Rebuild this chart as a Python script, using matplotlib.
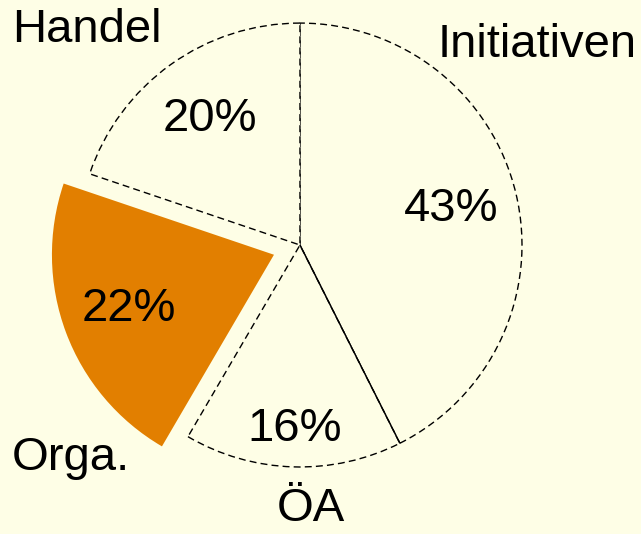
import numpy as np
import matplotlib.pyplot as plt

plt.rcParams['font.family'] = ['Liberation Sans', 'DejaVu Sans']

# data (clockwise from 12 o'clock)
labels = ['Initiativen', 'ÖA', 'Orga.', 'Handel']
values = [43, 16, 22, 20]
explode = [0, 0, 0.125, 0]

bg = '#FEFEE6'
orange = '#E27F00'
total = sum(values)

fig = plt.figure(figsize=(6.41, 5.34), dpi=100, facecolor=bg)
ax = fig.add_axes([0, 0, 1, 1])
ax.set_facecolor(bg)

wedges, texts, autotexts = ax.pie(
    values, explode=explode, startangle=90, counterclock=False,
    colors=[bg, bg, orange, bg],
    autopct=lambda p: '%d%%' % round(p * total / 100), pctdistance=0.7,
    wedgeprops=dict(edgecolor='black', linewidth=1.0, linestyle=(0, (5, 3))),
    textprops=dict(fontsize=34, color='black'))

# exploded slice drawn without outline
wedges[2].set_edgecolor('none')

# solid boundary between Initiativen and ÖA
theta = np.deg2rad(90 - 360 * values[0] / total)
ax.plot([0, np.cos(theta)], [0, np.sin(theta)], color='black', lw=1.0,
        solid_capstyle='butt')

# ÖA percentage sits a bit further out
ang = np.deg2rad((wedges[1].theta1 + wedges[1].theta2) / 2)
autotexts[1].set_position((0.83 * np.cos(ang), 0.83 * np.sin(ang)))

# category labels around the pie
label_pos = {'Initiativen': (1.07, 0.90), 'ÖA': (0.05, -1.19),
             'Orga.': (-1.03, -0.96), 'Handel': (-0.96, 0.97)}
for lab, (x, y) in label_pos.items():
    ax.text(x, y, lab, fontsize=34, ha='center', va='center')

ax.set_xlim(-1.351, 1.536)
ax.set_ylim(-1.302, 1.104)
ax.set_aspect('auto')
ax.axis('off')

fig.savefig('out.png', dpi=100, facecolor=bg)
